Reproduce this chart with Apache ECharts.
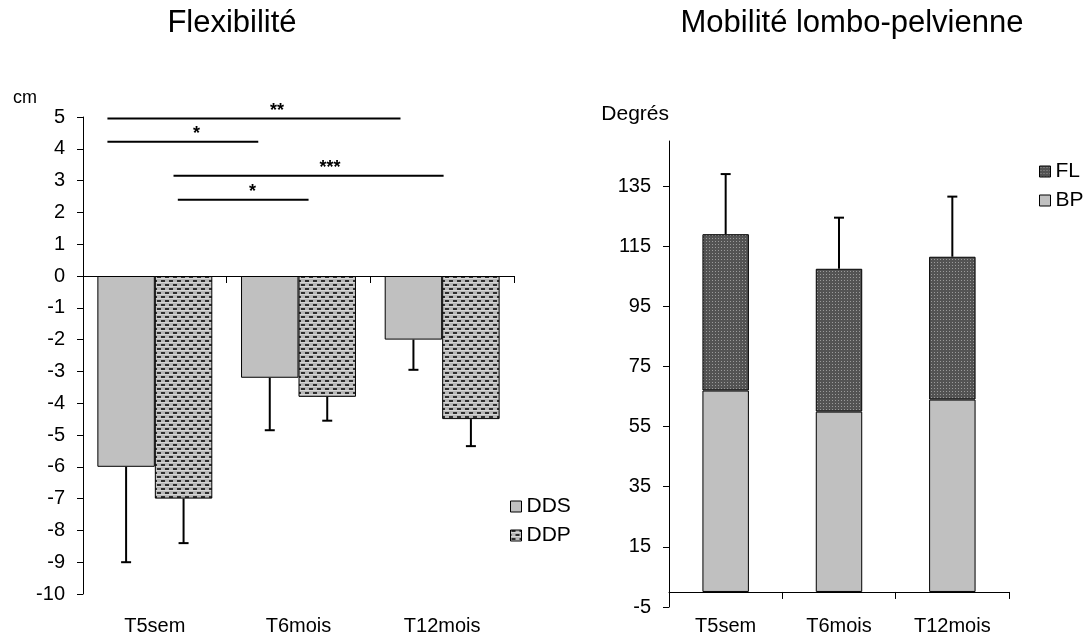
<!DOCTYPE html>
<html><head><meta charset="utf-8">
<script src="https://cdn.jsdelivr.net/npm/echarts@6/dist/echarts.min.js"></script>
<style>html,body{margin:0;padding:0;background:#fff}#c{width:1084px;height:636px}</style>
</head><body><div id="c"></div>
<script>
// ---- data ----
var categories = ['T5sem', 'T6mois', 'T12mois'];
// Flexibilité (cm)
var ddsMean = [-6.0, -3.2, -2.0];
var ddsSd = [3.0, 1.65, 0.95];
var ddpMean = [-7.0, -3.8, -4.5];
var ddpSd = [1.4, 0.75, 0.85];
// significance brackets (x in category-band units from axis start)
var sigLabels = ['**', '*', '***', '*'];
var sigY = [4.95, 4.22, 3.15, 2.4];
var sigStart = [0.17, 0.17, 0.63, 0.66];
var sigEnd = [2.21, 1.22, 2.51, 1.57];
var sigLabelX = [1.35, 0.79, 1.72, 1.18];
// Mobilité lombo-pelvienne (degrés)
var bpMean = [67, 60, 64];
var flMean = [52, 47.5, 47.5];
var totalSd = [20, 17, 20];
var mobTicks = [-5, 15, 35, 55, 75, 95, 115, 135];

var FONT = '"Liberation Sans", Arial, sans-serif';

function makePattern(w, h, bg, rects) {
  var c = document.createElement('canvas');
  c.width = w; c.height = h;
  var g = c.getContext('2d');
  g.fillStyle = bg; g.fillRect(0, 0, w, h);
  rects.forEach(function (r) { g.fillStyle = r[4]; g.fillRect(r[0], r[1], r[2], r[3]); });
  return c;
}
var ddpPat = makePattern(8, 8, '#b8b8b8', [
  [1, 0, 4, 2, '#2e2e2e'], [5, 4, 3, 2, '#2e2e2e'], [0, 4, 1, 2, '#2e2e2e'],
  [0, 2, 8, 1, '#d6d6d6'], [0, 6, 8, 1, '#d6d6d6']
]);
var flPat = makePattern(3, 3, '#535353', [[1, 1, 1, 1, '#9a9a9a']]);

function errRender(offset) {
  return function (params, api) {
    var i = api.value(0);
    var a = api.coord([i, api.value(1)]);
    var b = api.coord([i, api.value(2)]);
    var band = api.size([1, 0])[0];
    var x = a[0] + offset * band;
    return {
      type: 'group', children: [
        { type: 'line', shape: { x1: x, y1: a[1], x2: x, y2: b[1] }, style: { stroke: '#000', lineWidth: 2 } },
        { type: 'line', shape: { x1: x - 5, y1: b[1], x2: x + 5, y2: b[1] }, style: { stroke: '#000', lineWidth: 2 } }
      ]
    };
  };
}

function sigRender(params, api) {
  var k = params.dataIndex;
  var c0 = api.coord([0, api.value(1)]);
  var band = api.size([1, 0])[0];
  var x0 = c0[0] - band / 2;
  var y = c0[1];
  return {
    type: 'group', children: [
      { type: 'line', shape: { x1: x0 + sigStart[k] * band, y1: y, x2: x0 + sigEnd[k] * band, y2: y }, style: { stroke: '#000', lineWidth: 2 } },
      { type: 'text', style: { text: sigLabels[k], x: x0 + sigLabelX[k] * band, y: y - 8, align: 'center', verticalAlign: 'middle', font: 'bold 18px ' + FONT, fill: '#000' } }
    ]
  };
}

var axisTxt = { color: '#000', fontSize: 20, fontFamily: FONT };
var legTxt = { color: '#000', fontSize: 21, fontFamily: FONT };
var blackLine = { lineStyle: { color: '#000', width: 1 } };

var chart = echarts.init(document.getElementById('c'));
chart.setOption({
  animation: false,
  backgroundColor: '#fff',
  graphic: [
    { type: 'text', x: 232, y: 23, style: { text: 'Flexibilité', align: 'center', verticalAlign: 'middle', font: '31px ' + FONT, fill: '#000' } },
    { type: 'text', x: 852, y: 23, style: { text: 'Mobilité lombo-pelvienne', align: 'center', verticalAlign: 'middle', font: '31px ' + FONT, fill: '#000' } }
  ],
  legend: [
    { data: ['DDS', 'DDP'], orient: 'vertical', left: 505, top: 491, icon: 'rect', itemWidth: 11, itemHeight: 11, itemGap: 8, itemTextGap: 6,
      itemStyle: { borderColor: '#000', borderWidth: 1 }, textStyle: legTxt, selectedMode: false },
    { data: ['FL', 'BP'], orient: 'vertical', left: 1034, top: 156, icon: 'rect', itemWidth: 11, itemHeight: 11, itemGap: 8, itemTextGap: 5,
      itemStyle: { borderColor: '#000', borderWidth: 1 }, textStyle: legTxt, selectedMode: false }
  ],
  grid: [
    { left: 83, top: 117, width: 431, height: 477 },
    { left: 669, top: 141, width: 340, height: 468 }
  ],
  xAxis: [
    { gridIndex: 0, type: 'category', data: categories, axisLine: { onZero: true, lineStyle: { color: '#000', width: 1 } },
      axisTick: { show: true, length: 7, lineStyle: { color: '#000' } }, axisLabel: { show: false } },
    { gridIndex: 0, type: 'category', data: categories, position: 'bottom', axisLine: { show: false, onZero: false },
      axisTick: { show: false }, axisLabel: Object.assign({ margin: 22 }, axisTxt) },
    { gridIndex: 1, type: 'category', data: categories, axisLine: { onZero: true, lineStyle: { color: '#000', width: 1 } },
      axisTick: { show: true, length: 7, lineStyle: { color: '#000' } }, axisLabel: { show: false } },
    { gridIndex: 1, type: 'category', data: categories, position: 'bottom', axisLine: { show: false, onZero: false },
      axisTick: { show: false }, axisLabel: Object.assign({ margin: 9 }, axisTxt) }
  ],
  yAxis: [
    { gridIndex: 0, type: 'value', min: -10, max: 5, interval: 1,
      name: 'cm', nameLocation: 'end', nameGap: 10, nameTextStyle: { align: 'right', padding: [0, 46, 0, 0], color: '#000', fontSize: 18, fontFamily: FONT },
      axisLine: Object.assign({ show: true }, blackLine), axisTick: { show: true, length: 6, lineStyle: { color: '#000' } },
      axisLabel: Object.assign({ margin: 18 }, axisTxt), splitLine: { show: false } },
    { gridIndex: 1, type: 'value', min: -5, max: 150,
      name: 'Degrés', nameLocation: 'end', nameGap: 16, nameTextStyle: { align: 'right', color: '#000', fontSize: 21, fontFamily: FONT },
      axisLine: Object.assign({ show: true }, blackLine),
      axisTick: { show: true, length: 6, lineStyle: { color: '#000' }, customValues: mobTicks },
      axisLabel: Object.assign({ margin: 18, customValues: mobTicks }, axisTxt), splitLine: { show: false } }
  ],
  series: [
    { name: 'DDS', type: 'bar', xAxisIndex: 0, yAxisIndex: 0, data: ddsMean, barGap: '0%', barCategoryGap: '20%',
      itemStyle: { color: '#c0c0c0', borderColor: '#000', borderWidth: 1 } },
    { name: 'DDP', type: 'bar', xAxisIndex: 0, yAxisIndex: 0, data: ddpMean, barGap: '0%', barCategoryGap: '20%',
      itemStyle: { color: { image: ddpPat, repeat: 'repeat' }, borderColor: '#000', borderWidth: 1 } },
    { name: 'errDDS', type: 'custom', xAxisIndex: 0, yAxisIndex: 0, renderItem: errRender(-0.2), z: 5,
      data: ddsMean.map(function (v, i) { return [i, v, v - ddsSd[i]]; }), encode: { x: 0, y: [1, 2] } },
    { name: 'errDDP', type: 'custom', xAxisIndex: 0, yAxisIndex: 0, renderItem: errRender(0.2), z: 5,
      data: ddpMean.map(function (v, i) { return [i, v, v - ddpSd[i]]; }), encode: { x: 0, y: [1, 2] } },
    { name: 'sig', type: 'custom', xAxisIndex: 0, yAxisIndex: 0, renderItem: sigRender, z: 5,
      data: sigY.map(function (y) { return [0, y]; }), encode: { x: 0, y: 1 } },
    { name: 'BP', type: 'bar', xAxisIndex: 2, yAxisIndex: 1, stack: 'm', data: bpMean, barWidth: '41%',
      itemStyle: { color: '#c0c0c0', borderColor: '#000', borderWidth: 1 } },
    { name: 'FL', type: 'bar', xAxisIndex: 2, yAxisIndex: 1, stack: 'm', data: flMean, barWidth: '41%',
      itemStyle: { color: { image: flPat, repeat: 'repeat' }, borderColor: '#000', borderWidth: 1 } },
    { name: 'errTot', type: 'custom', xAxisIndex: 2, yAxisIndex: 1, renderItem: errRender(0), z: 5,
      data: bpMean.map(function (v, i) { var t = v + flMean[i]; return [i, t, t + totalSd[i]]; }), encode: { x: 0, y: [1, 2] } }
  ]
});
</script>
</body></html>
